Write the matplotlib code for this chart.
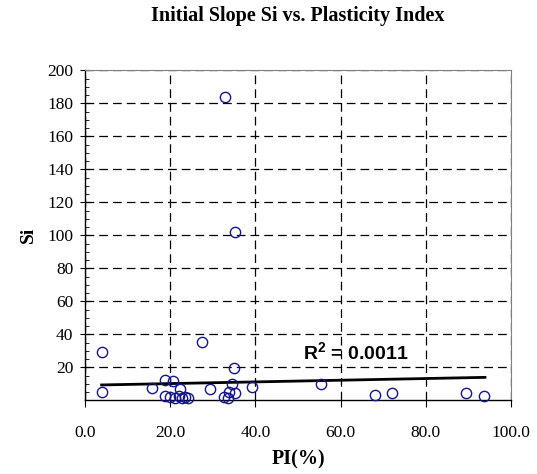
#!/usr/bin/env python3
"""Initial slope Si vs. plasticity index: scatter with a flat trend line."""
import matplotlib

matplotlib.use("Agg")
import matplotlib.pyplot as plt
from matplotlib.ticker import FixedLocator, MultipleLocator, FormatStrFormatter

# values
pi_pct = [3.9, 3.9, 15.7, 18.8, 20.7, 22.3, 18.8, 20.0, 21.1, 22.1, 22.7, 23.5,
          24.2, 27.4, 29.3, 32.7, 32.9, 33.5, 33.8, 34.6, 35.0, 35.2, 35.2, 39.3,
          55.3, 68.1, 72.0, 89.4, 93.7]
si = [29.5, 5.2, 7.3, 12.3, 11.8, 7.0, 2.4, 1.8, 1.2, 2.6, 1.5, 2.2,
      1.4, 35.5, 7.0, 2.2, 183.6, 1.2, 5.2, 9.7, 19.4, 4.2, 102.0, 8.2,
      9.7, 3.2, 4.2, 4.2, 2.6]

# linear trend line end points (as drawn in the reference)
trend_x = [3.9, 93.9]
trend_y = [9.3, 13.9]
r2_label = r"$\mathbf{R^2}$ = 0.0011"

x_ticks = [0, 20, 40, 60, 80, 100]
y_ticks = [20, 40, 60, 80, 100, 120, 140, 160, 180, 200]

SERIF = ["Liberation Serif", "DejaVu Serif"]
SANS = ["Liberation Sans", "DejaVu Sans"]

plt.rcParams["mathtext.fontset"] = "custom"
plt.rcParams["mathtext.rm"] = "Liberation Sans"
plt.rcParams["mathtext.bf"] = "Liberation Sans:bold"

fig = plt.figure(figsize=(5.37, 4.74), dpi=100)
ax = fig.add_axes([0.1583, 0.1555, 0.7933, 0.6962])

ax.set_xlim(0, 100)
ax.set_ylim(0, 200)

ax.xaxis.set_major_locator(FixedLocator(x_ticks))
ax.xaxis.set_major_formatter(FormatStrFormatter("%.1f"))
ax.yaxis.set_major_locator(FixedLocator(y_ticks))
ax.yaxis.set_minor_locator(MultipleLocator(5))

ax.grid(True, which="major", color="black", linestyle=(0, (7, 4)), linewidth=0.9)
ax.set_axisbelow(True)

ax.plot(trend_x, trend_y, color="black", linewidth=2.0, zorder=3)
ax.plot(pi_pct, si, linestyle="none", marker="o", markersize=7.4,
        markerfacecolor="none", markeredgecolor="#14148f", markeredgewidth=1.0,
        zorder=4, clip_on=False)

ax.text(63.6, 29, r2_label, ha="center", va="center", fontsize=14,
        fontweight="bold", family=SANS, zorder=5)

for side in ("top", "right"):
    ax.spines[side].set_color("#808080")
for side in ("left", "bottom"):
    ax.spines[side].set_color("black")
    ax.spines[side].set_linewidth(1.0)

ax.tick_params(axis="x", which="major", direction="out", length=5, pad=13,
               labelsize=12.5, colors="black")
ax.tick_params(axis="y", which="major", direction="inout", length=7, pad=5,
               labelsize=12.5)
ax.tick_params(axis="y", which="minor", direction="in", length=3)
for lab in ax.get_xticklabels() + ax.get_yticklabels():
    lab.set_family(SERIF)

ax.set_xlabel("PI(%)", family=SERIF, fontsize=14.5, fontweight="bold", labelpad=6)
ax.set_ylabel("Si", family=SERIF, fontsize=14, fontweight="bold", labelpad=7)
fig.text(0.555, 0.966, "Initial Slope Si vs. Plasticity Index", ha="center",
         va="center", family=SERIF, fontsize=14.5, fontweight="bold")

fig.savefig("out.png", dpi=100)
